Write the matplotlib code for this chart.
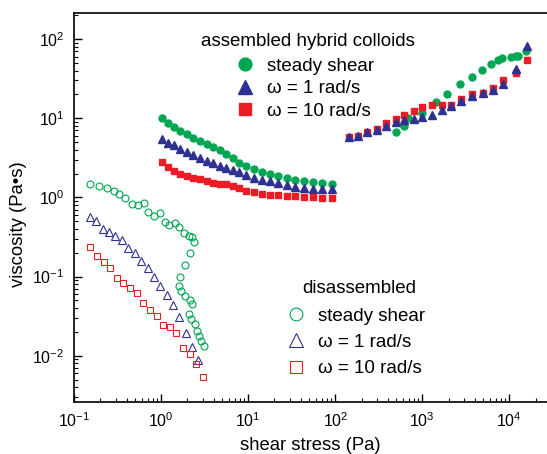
import matplotlib
matplotlib.use('Agg')
import matplotlib.pyplot as plt
from matplotlib.lines import Line2D

plt.rcParams['font.family'] = ['Liberation Sans', 'DejaVu Sans']
plt.rcParams['mathtext.fontset'] = 'custom'
plt.rcParams['mathtext.rm'] = 'Liberation Sans'
plt.rcParams['mathtext.it'] = 'Liberation Sans:italic'
plt.rcParams['mathtext.bf'] = 'Liberation Sans:bold'

GREEN = '#00a651'
BLUE = '#2e3192'
RED = '#ed1c24'

# ---------------- disassembled (open symbols) ----------------
dis_ss_x = [0.153, 0.194, 0.239, 0.284, 0.329, 0.379, 0.457, 0.536, 0.628, 0.698,
            0.832, 0.96, 1.11, 1.23, 1.43, 1.58, 1.82, 2.10, 2.24, 2.36,
            2.12, 1.89, 1.63, 1.60, 1.70, 1.86, 2.12, 2.27, 2.10, 2.19,
            2.42, 2.55, 2.69, 2.88, 3.10]
dis_ss_y = [1.46, 1.39, 1.30, 1.21, 1.10, 0.98, 0.82, 0.80, 0.855, 0.658,
            0.580, 0.634, 0.492, 0.451, 0.478, 0.418, 0.357, 0.324, 0.318, 0.272,
            0.196, 0.141, 0.0975, 0.0764, 0.0661, 0.0566, 0.0504, 0.0453, 0.0333, 0.0288,
            0.0248, 0.0206, 0.0177, 0.0153, 0.0131]

dis_w1_x = [0.153, 0.179, 0.212, 0.251, 0.296, 0.351, 0.418, 0.494, 0.585, 0.698,
            0.824, 0.966, 1.15, 1.36, 1.60, 1.91, 2.24, 2.66]
dis_w1_y = [0.559, 0.506, 0.398, 0.361, 0.324, 0.289, 0.231, 0.196, 0.157, 0.129,
            0.0975, 0.0764, 0.0583, 0.0440, 0.0308, 0.0191, 0.01285, 0.0088]

dis_w10_x = [0.153, 0.184, 0.218, 0.259, 0.312, 0.366, 0.437, 0.526, 0.621, 0.741,
             0.885, 1.05, 1.25, 1.49, 1.79, 2.12, 2.52, 3.01]
dis_w10_y = [0.233, 0.181, 0.153, 0.127, 0.0948, 0.0819, 0.0721, 0.0612, 0.0462, 0.0373,
             0.0316, 0.0246, 0.0228, 0.0195, 0.0126, 0.0105, 0.0079, 0.0054]

# ---------------- assembled, low stress ----------------
asm_lo_x = [1.02, 1.19, 1.40, 1.64, 1.96, 2.33, 2.79, 3.33, 3.96, 4.73,
            5.54, 6.62, 7.88, 9.41, 11.7, 14.4, 17.7, 22.1, 27.6, 34.7,
            43.7, 55.0, 70.3, 92.4]
asm_lo_ss = [10.1, 8.68, 7.80, 6.94, 6.25, 5.66, 5.10, 4.71, 4.32, 3.96,
             3.52, 3.14, 2.71, 2.46, 2.26, 2.11, 1.99, 1.86, 1.75, 1.65,
             1.61, 1.56, 1.52, 1.47]
asm_lo_w1 = [5.45, 4.90, 4.54, 4.08, 3.73, 3.39, 3.11, 2.88, 2.74, 2.49,
             2.32, 2.19, 2.09, 1.90, 1.75, 1.65, 1.59, 1.52, 1.42, 1.36,
             1.32, 1.28, 1.27, 1.26]
asm_lo_w10 = [2.79, 2.44, 2.15, 1.97, 1.84, 1.77, 1.72, 1.59, 1.52, 1.49,
              1.46, 1.38, 1.30, 1.21, 1.17, 1.11, 1.08, 1.07, 1.05, 1.04,
              1.02, 1.00, 0.99, 0.99]

# ---------------- assembled, high stress ----------------
asm_hi_x = [144, 181, 233, 301, 386, 499, 621, 796, 1000, 1292,
            1671, 2154, 2786, 3698, 4943, 6501, 8395, 11850, 15900]
asm_hi_w1 = [5.83, 6.00, 6.63, 7.08, 7.96, 8.86, 9.48, 9.84, 10.3, 11.0,
             12.8, 14.1, 16.3, 19.0, 20.6, 22.7, 26.8, 41.4, 81.6]
asm_hi_w10 = [5.73, 5.90, 6.68, 7.23, 8.61, 9.76, 11.0, 12.4, 13.7, 14.7,
              14.8, 14.5, 17.3, 20.0, 21.0, 24.0, 30.3, 36.9, 54.3]

asm_hi_ss_x = [494, 621, 690, 984, 1426, 1938, 2734, 3698, 4819, 6109,
               7362, 8241, 10540, 11940, 12680, 15750]
asm_hi_ss_y = [6.68, 7.96, 10.1, 11.7, 16.0, 20.4, 27.0, 33.1, 40.6, 47.9,
               54.3, 57.0, 59.3, 61.0, 61.0, 70.5]

fig = plt.figure(figsize=(5.47, 4.54), dpi=100)
ax = fig.add_axes([0.1358, 0.1156, 0.8642, 0.8564])
ax.set_xscale('log')
ax.set_yscale('log')

ms_f = 5.0
ms_o = 5.0
mew_o = 0.8

# open symbols
ax.plot(dis_ss_x, dis_ss_y, ls='none', marker='o', ms=ms_o, mfc='none', mec=GREEN, mew=mew_o)
ax.plot(dis_w1_x, dis_w1_y, ls='none', marker='^', ms=ms_o + 0.6, mfc='none', mec=BLUE, mew=mew_o)
ax.plot(dis_w10_x, dis_w10_y, ls='none', marker='s', ms=ms_o - 0.3, mfc='none', mec=RED, mew=mew_o)

# filled symbols
ax.plot(asm_lo_x, asm_lo_ss, ls='none', marker='o', ms=ms_f, color=GREEN, mec=GREEN)
ax.plot(asm_lo_x, asm_lo_w1, ls='none', marker='^', ms=ms_f + 0.5, color=BLUE, mec=BLUE)
ax.plot(asm_lo_x, asm_lo_w10, ls='none', marker='s', ms=ms_f - 0.6, color=RED, mec=RED)
ax.plot(asm_hi_ss_x, asm_hi_ss_y, ls='none', marker='o', ms=ms_f, color=GREEN, mec=GREEN)
ax.plot(asm_hi_x, asm_hi_w10, ls='none', marker='s', ms=ms_f - 0.6, color=RED, mec=RED)
ax.plot(asm_hi_x, asm_hi_w1, ls='none', marker='^', ms=ms_f + 0.5, color=BLUE, mec=BLUE)

ax.set_xlim(0.1, 10 ** 4.433)
ax.set_ylim(10 ** -2.579, 10 ** 2.332)

ax.spines['right'].set_visible(False)
for s in ['left', 'bottom', 'top']:
    ax.spines[s].set_linewidth(1.2)

ax.tick_params(which='both', direction='in', top=False, right=False, labelsize=11.5, pad=7)
ax.tick_params(which='major', length=6, width=1.0)
ax.tick_params(which='minor', length=3, width=0.8)

ax.set_xlabel('shear stress (Pa)', fontsize=13.3, labelpad=5)
ax.set_ylabel('viscosity (Pa\u2022s)', fontsize=13.3)
ax.yaxis.set_label_coords(-0.10, 0.455)

# legends
fs_leg = 13.5
labels = ['steady shear', '\u03c9 = 1 rad/s', '\u03c9 = 10 rad/s']

h_asm = [Line2D([], [], ls='none', marker='o', ms=9.2, color=GREEN),
         Line2D([], [], ls='none', marker='^', ms=9.6, color=BLUE),
         Line2D([], [], ls='none', marker='s', ms=8.5, color=RED)]
ls1 = 0.30
leg1 = ax.legend(h_asm, labels, title='assembled hybrid colloids', loc='upper center',
                 bbox_to_anchor=(0.494, 0.992), frameon=False, fontsize=fs_leg,
                 title_fontsize=fs_leg, handlelength=0.4, handletextpad=1.0,
                 labelspacing=ls1, borderpad=0.4)
try:
    leg1._legend_box.sep = ls1 * fs_leg + 1.5
except Exception:
    pass
ax.add_artist(leg1)

h_dis = [Line2D([], [], ls='none', marker='o', ms=9.2, mfc='none', mec=GREEN, mew=0.8),
         Line2D([], [], ls='none', marker='^', ms=9.6, mfc='none', mec=BLUE, mew=0.8),
         Line2D([], [], ls='none', marker='s', ms=8.7, mfc='none', mec=RED, mew=0.8)]
ls2 = 0.48
leg2 = ax.legend(h_dis, labels, title='disassembled', loc='upper center',
                 bbox_to_anchor=(0.602, 0.355), frameon=False, fontsize=fs_leg,
                 title_fontsize=fs_leg, handlelength=0.4, handletextpad=1.0,
                 labelspacing=ls2, borderpad=0.4)
try:
    leg2._legend_box.sep = ls2 * fs_leg + 1.0
except Exception:
    pass

fig.savefig('out.png', dpi=100)
